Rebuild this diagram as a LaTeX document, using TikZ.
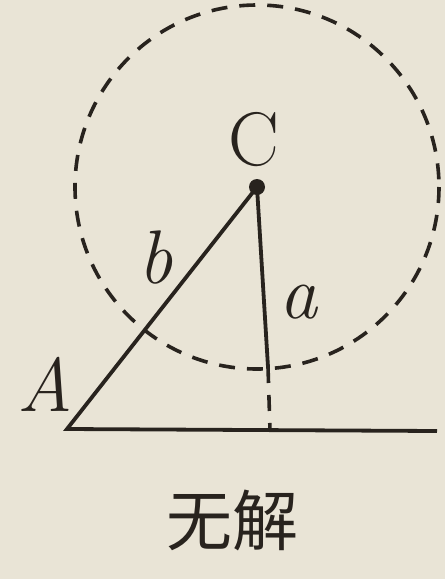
\documentclass[tikz,border=0pt]{standalone}
\usepackage{fontspec}
\newfontfamily\cjk{Noto Sans CJK SC}
\definecolor{paper}{RGB}{233,228,214}
\definecolor{ink}{RGB}{40,35,30}
\begin{document}
\begin{tikzpicture}[x=0.5pt,y=-0.5pt,
  ln/.style={draw=ink,line width=1.9pt},
  dsh/.style={draw=ink,line width=1.8pt,dash pattern=on 8pt off 6pt},
  lbl/.style={text=ink,font=\fontsize{38}{40}\selectfont,inner sep=0pt},
  ilbl/.style={lbl,font=\fontsize{38}{40}\selectfont\itshape}]
\fill[paper] (0,0) rectangle (445,579);
\useasboundingbox (0,0) rectangle (445,579);
\coordinate (C) at (257,187);
\coordinate (A) at (67,429);
\coordinate (E) at (437,431);
\coordinate (F) at (268,367);
\coordinate (G) at (270,430);
\draw[dsh] (C) circle [radius=182];
\draw[ln] (E) -- (A) -- (C) -- (F);
\draw[dsh] (F) -- (G);
\fill[ink] (C) circle [radius=8];
\node[lbl] (lc) at (254,140) {C};
\node[ilbl] (la) at (45,384) {A};
\node[ilbl] (lb) at (156,258) {b};
\node[ilbl] (laa) at (298,302) {a};
\node[text=ink,inner sep=0pt,font=\cjk\fontsize{33}{35}\selectfont] (t) at (232,520) {无解};
\end{tikzpicture}
\end{document}
